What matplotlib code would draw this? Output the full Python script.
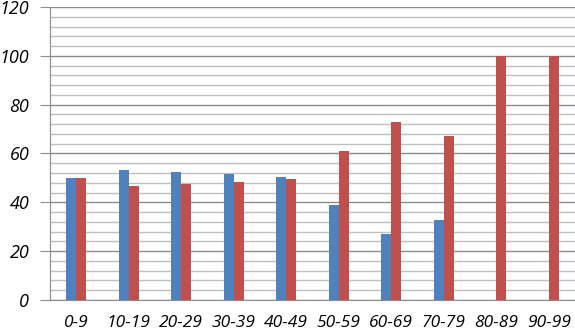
import numpy as np
import matplotlib
matplotlib.use("Agg")
import matplotlib.pyplot as plt
from matplotlib.ticker import MultipleLocator

# data
categories = ["0-9", "10-19", "20-29", "30-39", "40-49",
              "50-59", "60-69", "70-79", "80-89", "90-99"]
blue_vals = [50, 53.3, 52.5, 51.5, 50.5, 38.8, 27, 32.8, 0, 0]
red_vals = [50, 46.7, 47.5, 48.5, 49.5, 61.2, 73, 67.2, 100, 100]

plt.rcParams["font.family"] = ["Open Sans", "DejaVu Sans"]

fig = plt.figure(figsize=(5.75, 3.34), dpi=100)
ax = fig.add_axes([0.087, 0.102, 0.913, 0.877])

x = np.arange(len(categories))
w = 0.19
ax.bar(x - w / 2, blue_vals, width=w, color="#4F81BD", zorder=3)
ax.bar(x + w / 2, red_vals, width=w, color="#C0504D", zorder=3)

ax.set_xlim(-0.5, len(categories) - 0.5)
ax.set_ylim(0, 120)
ax.yaxis.set_major_locator(MultipleLocator(20))
ax.yaxis.set_minor_locator(MultipleLocator(4))
ax.grid(axis="y", which="major", color="#8c8c8c", linewidth=1, zorder=1)
ax.grid(axis="y", which="minor", color="#c0c0c0", linewidth=1, zorder=1)
ax.tick_params(axis="y", which="major", length=7, color="#8c8c8c",
               labelsize=13, pad=8)
ax.tick_params(axis="y", which="minor", length=0)
ax.tick_params(axis="x", length=0, labelsize=12.5, pad=11)
ax.set_xticks(x)
ax.set_xticklabels(categories)
for lbl in ax.get_xticklabels() + ax.get_yticklabels():
    lbl.set_fontstyle("italic")

for s in ["top", "right"]:
    ax.spines[s].set_visible(False)
for s in ["left", "bottom"]:
    ax.spines[s].set_color("#8c8c8c")

fig.savefig("out.png", dpi=100)
